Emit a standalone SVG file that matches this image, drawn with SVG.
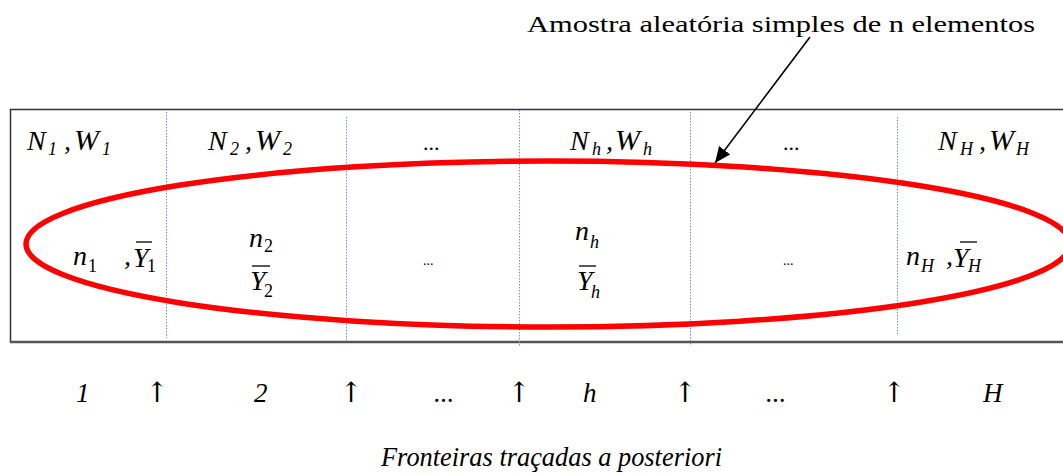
<svg xmlns="http://www.w3.org/2000/svg" width="1063" height="474" viewBox="0 0 1063 474" font-family="Liberation Serif, serif">
<style>
.m{font-style:italic;font-size:28px}
.s{font-size:18px}
.u{font-style:normal}
.t{font-size:24px}
.d{font-size:22px}
.ds{font-size:14px}
.b{font-style:italic;font-size:27px}
.ar{font-size:28px;text-anchor:middle}
.dot{stroke:#6f8ff0;stroke-width:1;stroke-dasharray:1.5 1.5;fill:none}
.bar{stroke:#000;stroke-width:1.3}
</style>
<defs>
<marker id="ah" markerUnits="userSpaceOnUse" markerWidth="18" markerHeight="16" refX="16" refY="7" orient="auto">
<path d="M0,0 L16,7 L0,14 Z" fill="#000"/>
</marker>
</defs>
<rect x="10.5" y="109.5" width="1062" height="232.5" fill="#fff" stroke="#333" stroke-width="1.5"/>
<line x1="10" y1="342" x2="1063" y2="342" stroke="#555" stroke-width="2.5"/>
<g id="boundaries">
<line class="dot" x1="166.5" y1="112" x2="166.5" y2="338"/>
<line class="dot" x1="346.5" y1="117" x2="346.5" y2="342"/>
<line class="dot" x1="519.5" y1="110" x2="519.5" y2="346"/>
<line class="dot" x1="690.5" y1="112" x2="690.5" y2="346"/>
<line class="dot" x1="897.5" y1="117" x2="897.5" y2="334"/>
</g>
<g id="sample">
<ellipse cx="548" cy="244" rx="522" ry="83" fill="none" stroke="#f00" stroke-width="5.5"/>
</g>
<g id="stratum1">
<text class="m"><tspan x="27" y="150">N</tspan><tspan class="s" x="48" y="155">1</tspan><tspan x="64" y="150">,</tspan><tspan x="74" y="150" font-size="30">W</tspan><tspan class="s" x="102" y="155">1</tspan></text>
<text class="m"><tspan x="73" y="265">n</tspan><tspan class="s u" x="88" y="272">1</tspan><tspan x="124" y="265">,</tspan><tspan x="133" y="267">Y</tspan><tspan class="s u" x="147" y="272">1</tspan></text>
<line class="bar" x1="136" y1="242" x2="152" y2="242"/>
</g>
<g id="stratum2">
<text class="m"><tspan x="208" y="150">N</tspan><tspan class="s" x="230" y="155">2</tspan><tspan x="245" y="150">,</tspan><tspan x="255" y="150" font-size="30">W</tspan><tspan class="s" x="283" y="155">2</tspan></text>
<text class="m"><tspan x="249" y="247">n</tspan><tspan class="s u" x="264" y="252">2</tspan><tspan x="250" y="290">Y</tspan><tspan class="s u" x="264" y="297">2</tspan></text>
<line class="bar" x1="252" y1="266" x2="270" y2="266"/>
</g>
<g id="stratum-dots1">
<text class="d" x="423" y="150">...</text>
<text class="ds" x="423" y="265">...</text>
</g>
<g id="stratumh">
<text class="m"><tspan x="570" y="150">N</tspan><tspan class="s" x="592" y="155">h</tspan><tspan x="606" y="150">,</tspan><tspan x="615" y="150" font-size="30">W</tspan><tspan class="s" x="643" y="155">h</tspan></text>
<text class="m"><tspan x="575" y="240">n</tspan><tspan class="s" x="590" y="248">h</tspan><tspan x="577" y="290">Y</tspan><tspan class="s" x="591" y="298">h</tspan></text>
<line class="bar" x1="579" y1="266" x2="596" y2="266"/>
</g>
<g id="stratum-dots2">
<text class="d" x="783" y="150">...</text>
<text class="ds" x="783" y="265">...</text>
</g>
<g id="stratumH">
<text class="m"><tspan x="938" y="150">N</tspan><tspan class="s" x="960" y="155">H</tspan><tspan x="979" y="150">,</tspan><tspan x="989" y="150" font-size="30">W</tspan><tspan class="s" x="1016" y="155">H</tspan></text>
<text class="m"><tspan x="906" y="265">n</tspan><tspan class="s" x="921" y="272">H</tspan><tspan x="946" y="265">,</tspan><tspan x="953" y="267">Y</tspan><tspan class="s" x="968" y="272">H</tspan></text>
<line class="bar" x1="960" y1="242" x2="977" y2="242"/>
</g>
<g id="label">
<text class="t" x="527" y="32" textLength="508" lengthAdjust="spacingAndGlyphs">Amostra aleatória simples de n elementos</text>
</g>
<g id="connectors">
<line x1="810" y1="37" x2="715" y2="163" stroke="#000" stroke-width="1.6" marker-end="url(#ah)"/>
</g>
<g id="axis">
<text class="b" x="76" y="402">1</text>
<text class="b" x="254" y="402">2</text>
<text class="b" x="434" y="402">...</text>
<text class="b" x="583" y="402">h</text>
<text class="b" x="766" y="402">...</text>
<text class="b" x="983" y="402">H</text>
<text class="ar" x="157" y="402" font-family="DejaVu Serif">↑</text>
<text class="ar" x="351" y="402" font-family="DejaVu Serif">↑</text>
<text class="ar" x="519" y="402" font-family="DejaVu Serif">↑</text>
<text class="ar" x="685" y="402" font-family="DejaVu Serif">↑</text>
<text class="ar" x="894" y="402" font-family="DejaVu Serif">↑</text>
<text class="b" x="381" y="466" textLength="341" lengthAdjust="spacingAndGlyphs">Fronteiras traçadas a posteriori</text>
</g>
</svg>
